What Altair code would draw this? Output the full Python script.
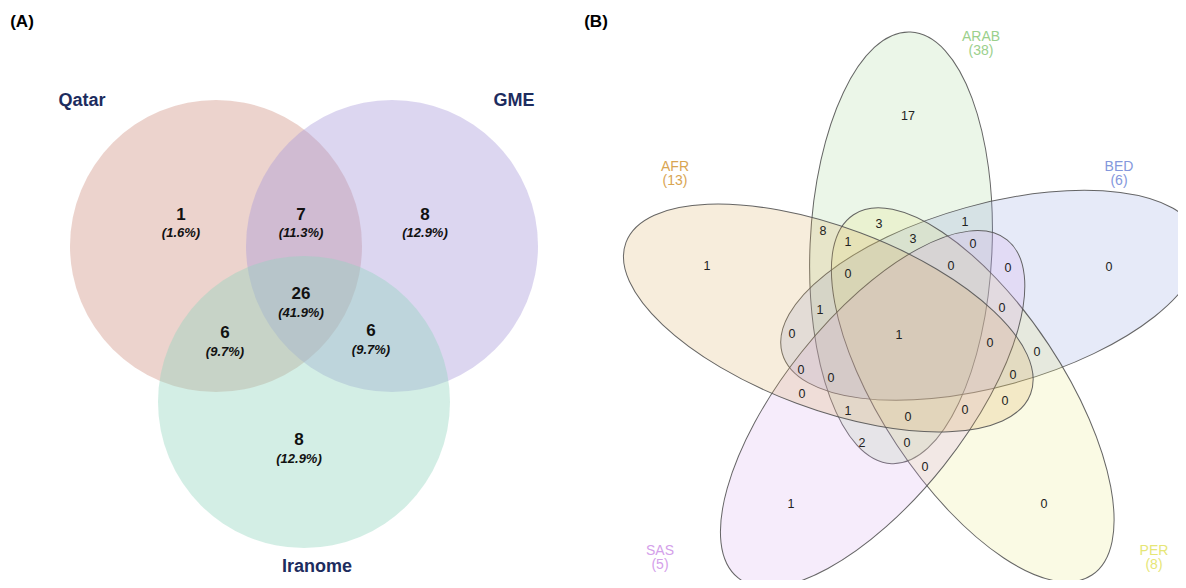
import altair as alt
import pandas as pd
import numpy as np

# ---------------- Panel A : three-set Venn ----------------
setsA = ["Qatar", "GME", "Iranome"]
setA_cx = [216, 392, 304]
setA_cy = [246, 246, 402]
setA_r = [146, 146, 146]
setA_fill = ["#d09182", "#a899da", "#91d4be"]
setA_label_x = [82, 514, 317]
setA_label_y = [101, 101, 567]

regA_count = ["1", "7", "8", "26", "6", "6", "8"]
regA_pct = ["(1.6%)", "(11.3%)", "(12.9%)", "(41.9%)", "(9.7%)", "(9.7%)", "(12.9%)"]
regA_x = [181, 301, 425, 301, 225, 371, 299]
regA_y = [215, 215, 215, 294, 333, 331, 440]
regA_pct_y = [233, 233, 233, 313, 352, 350, 459]

# ---------------- Panel B : five-set Venn ----------------
setsB = ["ARAB", "BED", "PER", "SAS", "AFR"]
setB_n = ["(38)", "(6)", "(8)", "(5)", "(13)"]
setB_color = ["#9bd08c", "#8497dc", "#e6e676", "#d4a0ea", "#d9a552"]
setB_label_x = [981, 1119, 1154, 660, 675]
setB_label_y = [37, 167, 551, 551, 167]

# ellipse layout (rotational 72° arrangement)
B_center = (913, 333)
B_dist = 86
B_center_angle0 = -98.0
B_axis_angle0 = -87.5
B_a = 216
B_b = 91

regB_count = ["17", "8", "3", "1", "3", "1", "0", "0", "0", "0", "0", "1",
              "1", "0", "0", "1", "0", "0", "0", "0", "0", "0", "0", "1",
              "0", "0", "2", "0", "0", "1", "0"]
regB_x = [908, 823, 879, 848, 913, 965, 973, 848, 951, 1008, 1109, 707,
          820, 1002, 792, 899, 990, 1037, 801, 831, 1013, 802, 1005, 848,
          908, 965, 862, 907, 925, 791, 1044]
regB_y = [116, 231, 224, 242, 239, 222, 244, 274, 266, 268, 267, 266,
          310, 308, 334, 335, 343, 352, 370, 378, 375, 394, 401, 411,
          417, 410, 443, 443, 467, 504, 504]

panel_letters = ["(A)", "(B)"]
panel_x = [22, 596]
panel_y = [22, 22]

# ---------------- build tables ----------------
W, H = 1170, 572
FONT = "Liberation Sans"
xs = alt.Scale(domain=[8, 8 + W], range=[0, W], nice=False, zero=False)
ys = alt.Scale(domain=[8, 8 + H], range=[0, H], nice=False, zero=False)
X = lambda f="x": alt.X(f"{f}:Q", scale=xs, axis=None)
Y = lambda f="y": alt.Y(f"{f}:Q", scale=ys, axis=None)

dfA = pd.DataFrame({
    "set": setsA, "x": setA_cx, "y": setA_cy,
    "size": [(2 * r) ** 2 for r in setA_r], "fill": setA_fill,
})

idx = np.arange(5)
cang = np.deg2rad(B_center_angle0 + 72 * idx)
dfB = pd.DataFrame({
    "set": setsB,
    "x": B_center[0] + B_dist * np.cos(cang),
    "y": B_center[1] + B_dist * np.sin(cang),
    "ang": np.mod(B_axis_angle0 + 72 * idx, 180.0),
    "size": [(2 * B_a) ** 2] * 5,
    "fill": setB_color,
})

r = B_b / B_a
k = 0.5523
ellipse_path = (
    f"M 1 0 C 1 {k*r:.4f} {k:.4f} {r:.4f} 0 {r:.4f} "
    f"C {-k:.4f} {r:.4f} -1 {k*r:.4f} -1 0 "
    f"C -1 {-k*r:.4f} {-k:.4f} {-r:.4f} 0 {-r:.4f} "
    f"C {k:.4f} {-r:.4f} 1 {-k*r:.4f} 1 0 Z"
)

circlesA = alt.Chart(dfA).mark_point(
    shape="circle", filled=True, opacity=1, fillOpacity=0.4, strokeWidth=0
).encode(
    x=X(), y=Y(),
    size=alt.Size("size:Q", scale=None, legend=None),
    fill=alt.Fill("fill:N", scale=None, legend=None),
)

ellipsesB = alt.Chart(dfB).mark_point(
    shape=ellipse_path, filled=True, opacity=1, fillOpacity=0.2,
    stroke="#555555", strokeWidth=1, strokeOpacity=0.9
).encode(
    x=X(), y=Y(),
    size=alt.Size("size:Q", scale=None, legend=None),
    angle=alt.Angle("ang:Q", scale=None),
    fill=alt.Fill("fill:N", scale=None, legend=None),
)

dfAlab = pd.DataFrame({"t": setsA, "x": setA_label_x, "y": setA_label_y})
labA = alt.Chart(dfAlab).mark_text(
    font=FONT, fontSize=18, fontWeight="bold", color="#1d2c5e"
).encode(x=X(), y=Y(), text="t:N")

dfAreg = pd.DataFrame({"c": regA_count, "p": regA_pct, "x": regA_x,
                       "y": regA_y, "py": regA_pct_y})
cntA = alt.Chart(dfAreg).mark_text(
    font=FONT, fontSize=17, fontWeight="bold", color="#111111"
).encode(x=X(), y=Y(), text="c:N")
pctA = alt.Chart(dfAreg).mark_text(
    font=FONT, fontSize=13, fontWeight="bold", fontStyle="italic", color="#111111"
).encode(x=X(), y=Y("py"), text="p:N")

dfLet = pd.DataFrame({"t": panel_letters, "x": panel_x, "y": panel_y})
letters = alt.Chart(dfLet).mark_text(
    font=FONT, fontSize=17, fontWeight="bold", color="#000000"
).encode(x=X(), y=Y(), text="t:N")

dfBlab = pd.DataFrame({"t": setsB, "n": setB_n, "x": setB_label_x,
                       "y": setB_label_y, "col": setB_color})
dfBlab["y2"] = dfBlab["y"] + 14
labB = alt.Chart(dfBlab).mark_text(font=FONT, fontSize=14).encode(
    x=X(), y=Y(), text="t:N", color=alt.Color("col:N", scale=None, legend=None))
labBn = alt.Chart(dfBlab).mark_text(font=FONT, fontSize=14).encode(
    x=X(), y=Y("y2"), text="n:N", color=alt.Color("col:N", scale=None, legend=None))

dfBreg = pd.DataFrame({"c": regB_count, "x": regB_x, "y": regB_y})
cntB = alt.Chart(dfBreg).mark_text(
    font=FONT, fontSize=12.5, color="#222222"
).encode(x=X(), y=Y(), text="c:N")

chart = alt.layer(
    circlesA, ellipsesB, labA, cntA, pctA, letters, labB, labBn, cntB
).properties(
    width=W, height=H, padding=0,
    autosize=alt.AutoSizeParams(type="none"),
    background="white",
).configure_view(stroke=None)

chart.save("out.html", embed_options={"renderer": "svg", "actions": False})
